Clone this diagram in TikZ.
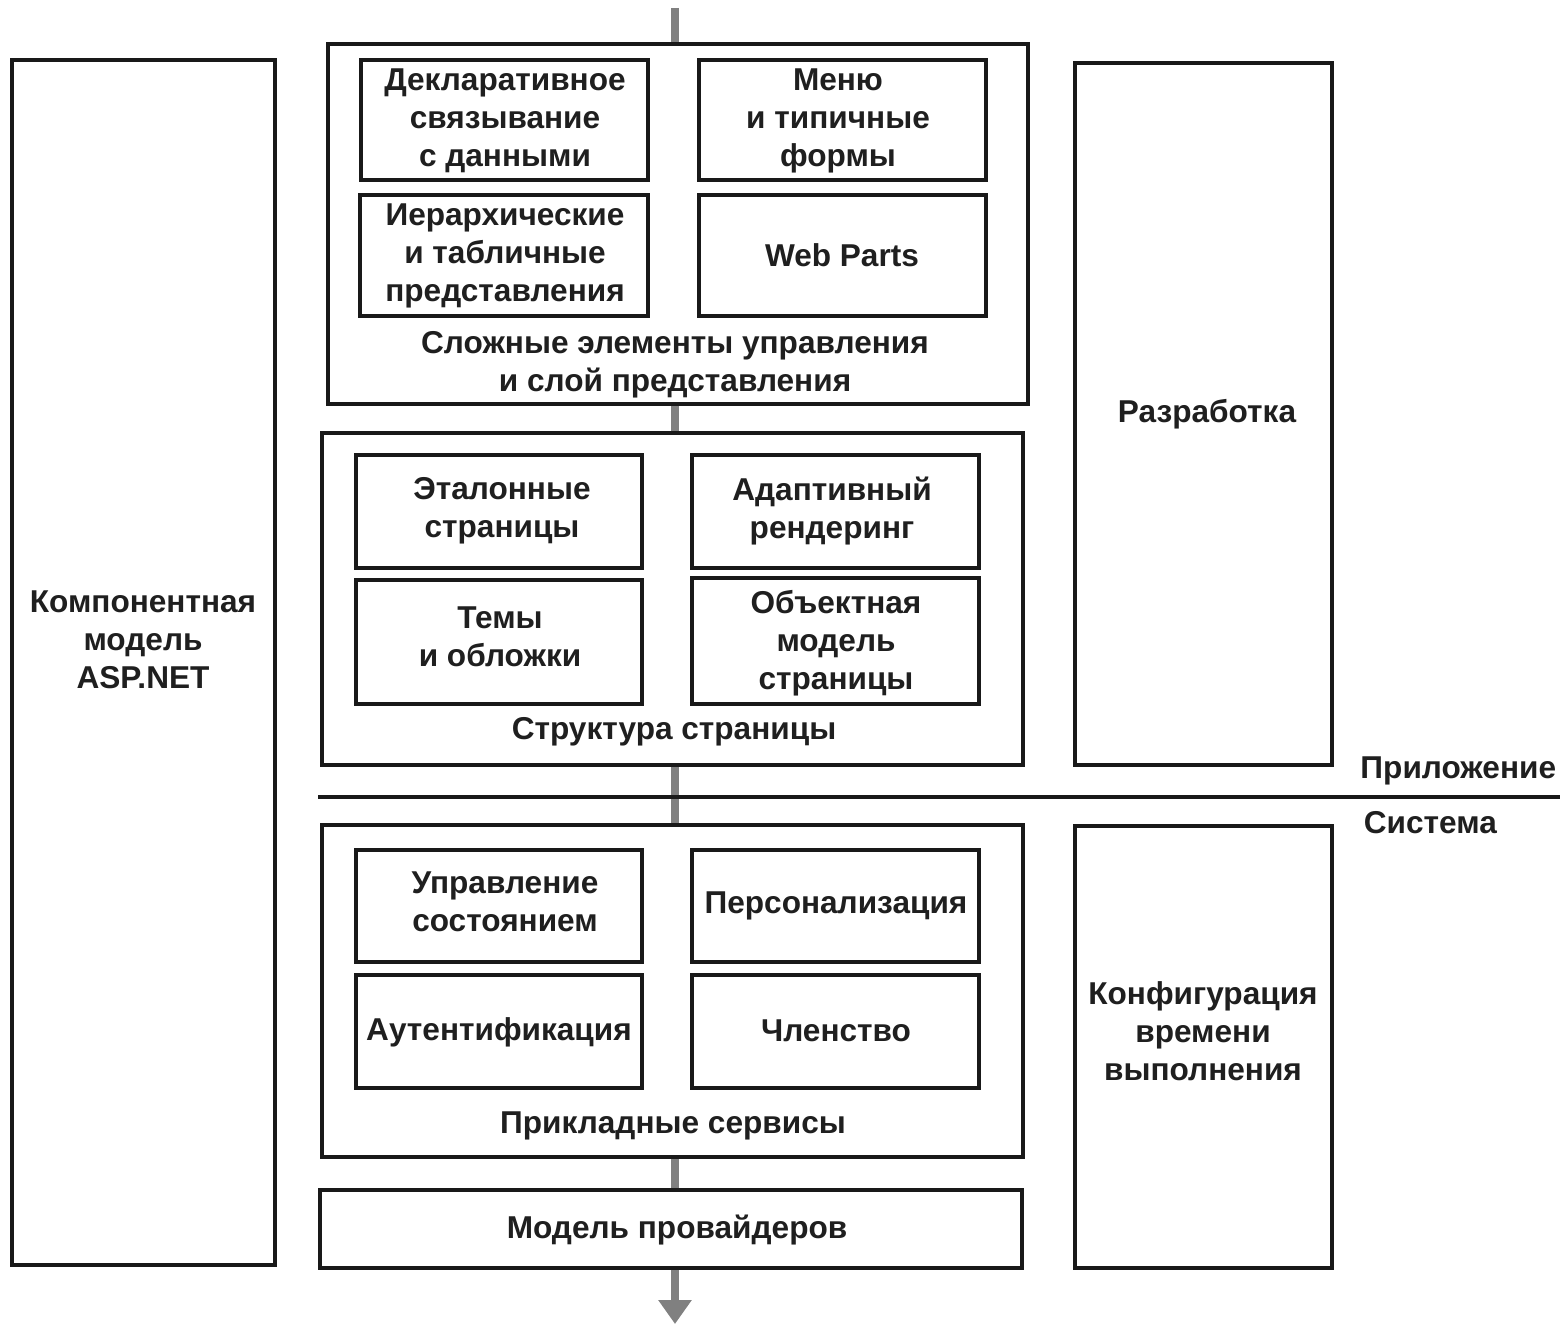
\documentclass[tikz,border=0pt]{standalone}
\usepackage{fontspec}
\setmainfont{Liberation Sans}
\usetikzlibrary{arrows.meta}
\tikzset{
  box/.style={draw=black!90, line width=2pt, fill=white},
  lbl/.style={align=center, font=\fontsize{15.8}{19}\selectfont\bfseries, text=black!88, inner sep=0.75pt},
  flow/.style={draw=black!50, line width=4pt, -{Triangle[width=16pt,length=12pt]}},
}
\begin{document}
\begin{tikzpicture}[x=0.5pt,y=-0.5pt]
\useasboundingbox (0,0) rectangle (1560,1326);

%Straight Lines: gray flow behind the layers
\coordinate (ftop) at (675,8);
\coordinate (fbot) at (675,1324);
\draw [flow] (ftop) -- (fbot);

%Shape: Rectangle (component model)
\draw [box] (12,60) rectangle (275,1265);
% Text Node
\node [lbl] (comp) at (143,640) {Компонентная\\модель\\ASP.NET};

%Shape: Rectangle (presentation layer)
\draw [box] (328,44) rectangle (1028,404);
\draw [box] (361,60) rectangle (648,180);
\draw [box] (699,60) rectangle (986,180);
\draw [box] (360,195) rectangle (648,316);
\draw [box] (699,195) rectangle (986,316);
% Text Node
\node [lbl] (decl) at (505,121) {Декларативное\\связывание\\с данными};
\node [lbl] (menu) at (838,121) {Меню\\и типичные\\формы};
\node [lbl] (hier) at (505,256) {Иерархические\\и табличные\\представления};
\node [lbl] (wparts) at (842,255) {Web Parts};
\node [lbl] (ctrls) at (675,365) {Сложные элементы управления\\и слой представления};

%Shape: Rectangle (page structure)
\draw [box] (322,433) rectangle (1023,765);
\draw [box] (356,455) rectangle (642,568);
\draw [box] (692,455) rectangle (979,568);
\draw [box] (356,580) rectangle (642,704);
\draw [box] (692,578) rectangle (979,704);
% Text Node
\node [lbl] (master) at (502,511) {Эталонные\\страницы};
\node [lbl] (adapt) at (832,511) {Адаптивный\\рендеринг};
\node [lbl] (themes) at (500,637) {Темы\\и обложки};
\node [lbl] (pom) at (836,643) {Объектная\\модель\\страницы};
\node [lbl] (pstruct) at (674,732) {Структура страницы};

%Straight Lines: application / system border
\coordinate (sepl) at (318,797);
\coordinate (sepr) at (1560,797);
\draw [draw=black!90, line width=2pt] (sepl) -- (sepr);
% Text Node
\node [lbl, anchor=south east] (app) at (1558,787) {Приложение};
\node [lbl, anchor=north west] (sys) at (1362,810) {Система};

%Shape: Rectangle (application services)
\draw [box] (322,825) rectangle (1023,1157);
\draw [box] (356,850) rectangle (642,962);
\draw [box] (692,850) rectangle (979,962);
\draw [box] (356,975) rectangle (642,1088);
\draw [box] (692,975) rectangle (979,1088);
% Text Node
\node [lbl] (state) at (505,902) {Управление\\состоянием};
\node [lbl] (pers) at (836,906) {Персонализация};
\node [lbl] (auth) at (499,1032) {Аутентификация};
\node [lbl] (member) at (836,1031) {Членство};
\node [lbl] (appsvc) at (673,1126) {Прикладные сервисы};

%Shape: Rectangle (provider model)
\draw [box] (320,1190) rectangle (1022,1268);
% Text Node
\node [lbl] (prov) at (677,1230) {Модель провайдеров};

%Shape: Rectangle (right column)
\draw [box] (1075,63) rectangle (1332,765);
\draw [box] (1075,826) rectangle (1332,1268);
% Text Node
\node [lbl] (dev) at (1207,414) {Разработка};
\node [lbl] (rtcfg) at (1203,1031) {Конфигурация\\времени\\выполнения};

\end{tikzpicture}
\end{document}
